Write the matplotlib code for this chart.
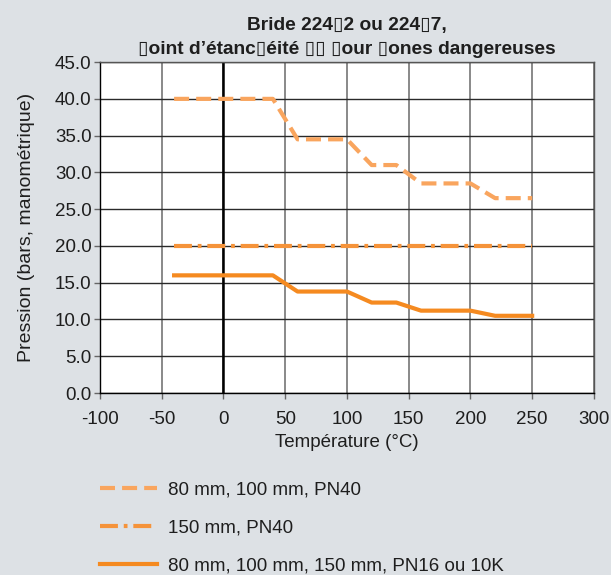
import matplotlib
matplotlib.use("Agg")
import matplotlib.pyplot as plt
from matplotlib.lines import Line2D

plt.rcParams['font.family'] = ['Liberation Sans', 'DejaVu Sans']

title = "Bride 224\u25af2 ou 224\u25af7,\n\u25afoint d\u2019\u00e9tanc\u25af\u00e9it\u00e9 \u25af\u25af \u25afour \u25afones dangereuses"
xlabel = "Température (°C)"
ylabel = "Pression (bars, manométrique)"

temp_a = [-40, 40, 60, 100, 120, 140, 160, 200, 220, 250]
press_a = [40.0, 40.0, 34.5, 34.5, 31.0, 31.0, 28.5, 28.5, 26.5, 26.5]
temp_b = [-40, 250]
press_b = [20.0, 20.0]
temp_c = [-40, 40, 60, 100, 120, 140, 160, 200, 220, 250]
press_c = [16.0, 16.0, 13.8, 13.8, 12.3, 12.3, 11.2, 11.2, 10.5, 10.5]
labels = ["80 mm, 100 mm, PN40", "150 mm, PN40", "80 mm, 100 mm, 150 mm, PN16 ou 10K"]

xticks = list(range(-100, 301, 50))
yticks = [i * 5.0 for i in range(10)]

bg = '#dde1e5'
txt = '#1e1e1e'
fs = 13.5
fig = plt.figure(figsize=(6.11, 5.75), dpi=100, facecolor=bg)
ax = fig.add_axes([0.1637, 0.3165, 0.8083, 0.5755])
ax.set_facecolor('white')

c_a = '#f9a55e'
c_b = '#f5933a'
c_c = '#f58a20'
dash_a = (3.6, 1.7)
dash_b = (4.3, 1.4, 0.9, 1.4)
ax.plot(temp_a, press_a, color=c_a, lw=3, dashes=dash_a, zorder=3)
ax.plot(temp_b, press_b, color=c_b, lw=3, dashes=dash_b, zorder=3)
ax.plot(temp_c, press_c, color=c_c, lw=3, zorder=3)

ax.set_xlim(-100, 300)
ax.set_ylim(0, 45)
ax.set_xticks(xticks)
ax.set_xticklabels([str(t) for t in xticks])
ax.set_yticks(yticks)
ax.set_yticklabels([f"{t:.1f}" for t in yticks])
ax.xaxis.grid(True, color='#6a6a6a', lw=1.1)
ax.yaxis.grid(True, color='#2a2a2a', lw=1.0)
ax.axvline(0, color='black', lw=1.8, zorder=2)
for s in ax.spines.values():
    s.set_color('#555555')
    s.set_linewidth(1.0)
ax.spines['left'].set_color('black')
ax.spines['bottom'].set_color('black')
ax.tick_params(length=4, width=1, color='#666666', labelsize=fs, labelcolor=txt)
ax.tick_params(axis='y', pad=2)
ax.tick_params(axis='x', pad=9)
ax.set_xlabel(xlabel, fontsize=fs, color=txt, labelpad=4)
ax.set_ylabel(ylabel, fontsize=14, color=txt, labelpad=14)
ax.set_title(title, fontsize=13.8, fontweight='bold', color=txt, pad=6, linespacing=1.5)

handles = [
    Line2D([], [], color=c_a, lw=3, dashes=dash_a),
    Line2D([], [], color=c_b, lw=3, dashes=dash_b),
    Line2D([], [], color=c_c, lw=3),
]
leg = fig.legend(handles, labels, loc='upper left', bbox_to_anchor=(0.163, 0.162),
                 frameon=False, fontsize=fs, handlelength=3.05, handletextpad=0.6,
                 labelspacing=1.11, borderaxespad=0, borderpad=0)
for t in leg.get_texts():
    t.set_color(txt)

fig.savefig('out.png', dpi=100, facecolor=bg)
